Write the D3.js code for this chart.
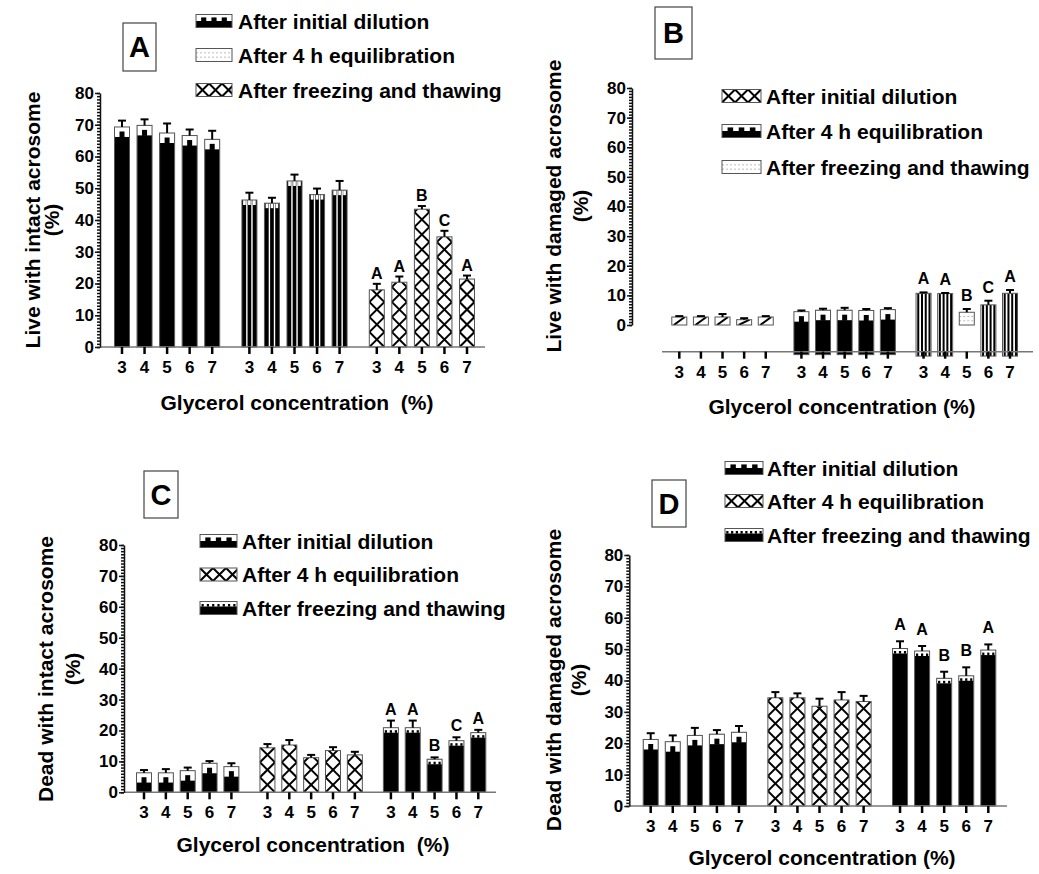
<!DOCTYPE html>
<html>
<head>
<meta charset="utf-8">
<script src="https://cdn.jsdelivr.net/npm/d3@7/dist/d3.min.js"></script>
<style>
  body { margin: 0; background: #fff; }
  svg { display: block; font-family: "Liberation Sans", Arial, sans-serif; font-weight: bold; }
</style>
</head>
<body>
<svg id="chart" width="1039" height="874"></svg>
<script>
// --- data ---
const glycerol = ['3', '4', '5', '6', '7'];
const stages = ['After initial dilution', 'After 4 h equilibration', 'After freezing and thawing'];
const yTicks = [0, 10, 20, 30, 40, 50, 60, 70, 80];

// A: live with intact acrosome (3 stages x 5 glycerol levels)
const liveIntactMean = [69.3, 69.8, 67.4, 66.6, 65.4, 46.3, 45.3, 52.3, 48.0, 49.4, 18.0, 20.4, 43.4, 34.7, 21.4];
const liveIntactErr = [2.0, 1.9, 3.0, 1.9, 2.7, 2.3, 1.7, 2.0, 1.9, 2.9, 1.9, 1.8, 1.0, 1.9, 1.1];
const liveIntactLetters = ['', '', '', '', '', '', '', '', '', '', 'A', 'A', 'B', 'C', 'A'];

// B: live with damaged acrosome
const liveDamagedMean = [2.7, 2.7, 2.7, 1.8, 2.7, 4.5, 5.0, 5.0, 4.9, 5.2, 10.7, 10.6, 4.3, 6.8, 10.7];
const liveDamagedErr = [0.3, 0.3, 1.0, 0.5, 0.3, 0.4, 0.5, 0.8, 0.5, 0.5, 0.3, 0.2, 1.1, 1.4, 1.1];
const liveDamagedLetters = ['', '', '', '', '', '', '', '', '', '', 'A', 'A', 'B', 'C', 'A'];

// C: dead with intact acrosome
const deadIntactMean = [6.3, 6.3, 7.0, 9.4, 8.3, 14.4, 15.3, 11.2, 13.5, 12.1, 20.9, 20.9, 10.7, 16.7, 19.3];
const deadIntactErr = [0.9, 1.2, 1.0, 0.7, 1.1, 1.2, 1.6, 0.9, 1.1, 1.0, 2.3, 2.3, 0.6, 1.1, 0.9];
const deadIntactLetters = ['', '', '', '', '', '', '', '', '', '', 'A', 'A', 'B', 'C', 'A'];

// D: dead with damaged acrosome
const deadDamagedMean = [21.2, 20.5, 22.5, 22.9, 23.5, 34.5, 34.5, 31.8, 33.8, 33.3, 50.2, 49.4, 40.7, 41.5, 49.7];
const deadDamagedErr = [2.0, 2.0, 2.4, 1.3, 2.0, 1.8, 1.4, 2.4, 2.5, 1.8, 2.3, 1.6, 2.1, 2.7, 1.8];
const deadDamagedLetters = ['', '', '', '', '', '', '', '', '', '', 'A', 'A', 'B', 'B', 'A'];

// --- layout of the four panels ---
const panels = [
  { tag: 'A', mean: liveIntactMean, err: liveIntactErr, letters: liveIntactLetters,
    yTitle: 'Live with intact acrosome', xTitle: 'Glycerol concentration  (%)',
    yAxisX: 100, y0: 347, y80: 93, x0: 122, x1: 467, xAxisFrom: 100, xAxisTo: 485, axisValue: 0,
    xTitleX: 297, xTitleY: 410, yTitleX: [32, 51], yTitleY: 220, box: [123, 23, 33, 48],
    legend: { x: 196, w: 36, h: 13, rows: [21, 55, 90], textX: 238 }, letterGap: 5,
    styles: ['block', 'stripes', 'cross'], legendStyles: ['block', 'dotted', 'cross'] },
  { tag: 'B', mean: liveDamagedMean, err: liveDamagedErr, letters: liveDamagedLetters,
    yTitle: 'Live with damaged acrosome', xTitle: 'Glycerol concentration (%)',
    yAxisX: 632, y0: 325, y80: 88, x0: 679.3, x1: 1010, xAxisFrom: 662, xAxisTo: 1033, axisValue: -9,
    xTitleX: 842, xTitleY: 414, yTitleX: [553, 580], yTitleY: 206, box: [655, 7, 37, 52],
    legend: { x: 722, w: 39, h: 13, rows: [96, 131, 167], textX: 766 }, letterGap: 8,
    styles: ['diag', 'block', 'vlines'], legendStyles: ['cross', 'block', 'dotted'],
    bases: [0, 0, 0, 0, 0, -10, -10, -10, -10, -10, -10.5, -10.5, 0, -10.5, -10.5],
    override: { 12: 'dotted' } },
  { tag: 'C', mean: deadIntactMean, err: deadIntactErr, letters: deadIntactLetters,
    yTitle: 'Dead with intact acrosome', xTitle: 'Glycerol concentration  (%)',
    yAxisX: 124, y0: 792.3, y80: 545, x0: 144, x1: 478.3, xAxisFrom: 124, xAxisTo: 496, axisValue: 0,
    xTitleX: 313, xTitleY: 852, yTitleX: [45, 72], yTitleY: 669, box: [144, 471, 34, 47],
    legend: { x: 200, w: 37, h: 13, rows: [541, 574.5, 608], textX: 242 }, letterGap: 6,
    styles: ['block', 'cross', 'dotsTop'], legendStyles: ['block', 'cross', 'dotsTop'] },
  { tag: 'D', mean: deadDamagedMean, err: deadDamagedErr, letters: deadDamagedLetters,
    yTitle: 'Dead with damaged acrosome', xTitle: 'Glycerol concentration (%)',
    yAxisX: 629.3, y0: 806, y80: 555, x0: 650.7, x1: 988.3, xAxisFrom: 629.3, xAxisTo: 1007, axisValue: 0,
    xTitleX: 822, xTitleY: 865, yTitleX: [553, 578], yTitleY: 680, box: [652, 480, 34, 47],
    legend: { x: 725, w: 38, h: 13, rows: [468, 501, 535], textX: 767 }, letterGap: 11,
    styles: ['block', 'cross', 'dotsTop'], legendStyles: ['block', 'cross', 'dotsTop'] }
];

const groupGap = 5.65;   // slot offset between stage groups
const barW = 15;
const svg = d3.select('#chart');
let clipN = 0;

// paints one bar (or legend swatch) with the Prism-like fill pattern
function paint(g, x, top, bottom, w, style, cell) {
  const h = bottom - top;
  if (h <= 0.5) return;
  const id = 'clip' + (clipN++);
  g.append('clipPath').attr('id', id)
    .append('rect').attr('x', x).attr('y', top).attr('width', w).attr('height', h);
  const s = g.append('g').attr('clip-path', `url(#${id})`);
  const dark = style === 'block' || style === 'stripes' || style === 'dotsTop';
  s.append('rect').attr('x', x).attr('y', top).attr('width', w).attr('height', h)
    .attr('fill', dark ? '#000' : '#fff');

  if (style === 'block') {
    const band = Math.min(10, h * 0.5);
    s.append('rect').attr('x', x).attr('y', top).attr('width', w).attr('height', band).attr('fill', '#fff');
    const n = Math.max(1, Math.round(w / 13));
    const tw = w / (2 * n + 1);
    for (let k = 0; k < n; k++) {
      s.append('rect').attr('x', x + (2 * k + 1) * tw).attr('y', top + band * 0.45)
        .attr('width', tw).attr('height', band * 0.55 + 0.5).attr('fill', '#000');
    }
  } else if (style === 'stripes') {
    [0.33, 0.67].forEach(f => {
      s.append('rect').attr('x', x + f * w - 0.7).attr('y', top).attr('width', 1.4).attr('height', h).attr('fill', '#fff');
    });
    [0.17, 0.5, 0.83].forEach(f => {
      s.append('rect').attr('x', x + f * w - w * 0.09).attr('y', top).attr('width', w * 0.18).attr('height', 5).attr('fill', '#fff');
    });
  } else if (style === 'vlines') {
    [0.08, 0.33, 0.58, 0.83].forEach(f => {
      s.append('rect').attr('x', x + f * w).attr('y', top).attr('width', 2).attr('height', h).attr('fill', '#000');
    });
  } else if (style === 'cross') {
    const c = cell || w;
    const L = h + w + 2 * c;
    for (let k = -Math.ceil(L / c); k <= Math.ceil(L / c); k++) {
      const bx = x + k * c;
      s.append('line').attr('x1', bx).attr('y1', bottom).attr('x2', bx + L).attr('y2', bottom - L)
        .attr('stroke', '#000').attr('stroke-width', 2);
      s.append('line').attr('x1', bx).attr('y1', bottom).attr('x2', bx - L).attr('y2', bottom - L)
        .attr('stroke', '#000').attr('stroke-width', 2);
    }
  } else if (style === 'diag') {
    s.append('line').attr('x1', x + 2).attr('y1', bottom).attr('x2', x + w - 2).attr('y2', top)
      .attr('stroke', '#000').attr('stroke-width', 2);
  } else if (style === 'dotted') {
    [1 / 3, 2 / 3].forEach(f => {
      s.append('line').attr('x1', x).attr('x2', x + w).attr('y1', top + f * h).attr('y2', top + f * h)
        .attr('stroke', '#bbb').attr('stroke-width', 1).attr('stroke-dasharray', '2,2');
    });
  } else if (style === 'dotsTop') {
    const band = Math.min(5, h * 0.4);
    s.append('rect').attr('x', x).attr('y', top).attr('width', w).attr('height', band).attr('fill', '#fff');
    const n = Math.max(3, Math.round(w / 5));
    for (let k = 0; k < n; k++) {
      s.append('rect').attr('x', x + (k + 0.5) * w / n - 1.1).attr('y', top + band - 2.5)
        .attr('width', 2.2).attr('height', 2.6).attr('fill', '#000');
    }
  }
  g.append('rect').attr('x', x).attr('y', top).attr('width', w).attr('height', h)
    .attr('fill', 'none').attr('stroke', '#555').attr('stroke-width', 1);
}

panels.forEach(P => {
  const g = svg.append('g');
  const y = d3.scaleLinear().domain([0, 80]).range([P.y0, P.y80]);
  const x = d3.scaleLinear().domain([0, 2 * groupGap + 4]).range([P.x0, P.x1]);
  const slot = i => Math.floor(i / 5) * groupGap + (i % 5);
  const baseY = y(P.axisValue);

  // bars
  P.mean.forEach((m, i) => {
    const cx = x(slot(i));
    const base = P.bases ? P.bases[i] : P.axisValue;
    const style = (P.override && P.override[i]) || P.styles[Math.floor(i / 5)];
    paint(g, cx - barW / 2, y(m), y(base), barW, style);
  });

  // error bars (upper only) and letters
  P.mean.forEach((m, i) => {
    const cx = x(slot(i));
    const t = y(m + P.err[i]);
    g.append('line').attr('x1', cx).attr('x2', cx).attr('y1', y(m)).attr('y2', t)
      .attr('stroke', '#000').attr('stroke-width', 2);
    g.append('line').attr('x1', cx - 4).attr('x2', cx + 4).attr('y1', t).attr('y2', t)
      .attr('stroke', '#000').attr('stroke-width', 2);
    if (P.letters[i]) {
      g.append('text').attr('x', cx).attr('y', t - P.letterGap).attr('text-anchor', 'middle')
        .attr('font-size', 16).text(P.letters[i]);
    }
  });

  // x axis line, ticks under bars and labels
  g.append('line').attr('x1', P.xAxisFrom).attr('x2', P.xAxisTo).attr('y1', baseY).attr('y2', baseY)
    .attr('stroke', '#777').attr('stroke-width', 1.5);
  P.mean.forEach((m, i) => {
    const cx = x(slot(i));
    g.append('line').attr('x1', cx).attr('x2', cx).attr('y1', baseY).attr('y2', baseY + 7)
      .attr('stroke', '#000').attr('stroke-width', 2.5);
    g.append('text').attr('x', cx).attr('y', baseY + 26).attr('text-anchor', 'middle')
      .attr('font-size', 17).text(glycerol[i % 5]);
  });

  // y axis with dense minor ticks
  g.append('g').attr('transform', `translate(${P.yAxisX},0)`)
    .call(d3.axisLeft(y).tickValues(d3.range(0, 81, 1)).tickSize(3).tickSizeOuter(0).tickFormat(''))
    .call(a => a.select('.domain').remove())
    .call(a => a.selectAll('.tick line').attr('stroke', '#111').attr('stroke-width', 1.5));
  const yAx = g.append('g').attr('transform', `translate(${P.yAxisX},0)`)
    .call(d3.axisLeft(y).tickValues(yTicks).tickSize(5).tickSizeOuter(0).tickPadding(1));
  yAx.select('.domain').attr('stroke', '#111').attr('stroke-width', 1.5);
  yAx.selectAll('.tick line').attr('stroke', '#111').attr('stroke-width', 1.5);
  yAx.selectAll('text').attr('font-size', 17).attr('font-family', null).attr('fill', '#000');

  // titles
  g.append('text').attr('x', P.xTitleX).attr('y', P.xTitleY).attr('text-anchor', 'middle')
    .attr('font-size', 21).style('white-space', 'pre').text(P.xTitle);
  [P.yTitle, '(%)'].forEach((t, k) => {
    g.append('text').attr('transform', `translate(${P.yTitleX[k]},${P.yTitleY}) rotate(-90)`)
      .attr('text-anchor', 'middle').attr('dominant-baseline', 'central')
      .attr('font-size', 21).text(t);
  });

  // panel letter box
  const [bx, by, bw, bh] = P.box;
  g.append('rect').attr('x', bx).attr('y', by).attr('width', bw).attr('height', bh)
    .attr('fill', '#fff').attr('stroke', '#444').attr('stroke-width', 1.2);
  g.append('text').attr('x', bx + bw / 2).attr('y', by + bh / 2).attr('text-anchor', 'middle')
    .attr('dominant-baseline', 'central').attr('font-size', 29).text(P.tag);

  // legend
  const Lg = P.legend;
  stages.forEach((s, k) => {
    const cy = Lg.rows[k];
    paint(g, Lg.x, cy - Lg.h / 2, cy + Lg.h / 2, Lg.w, P.legendStyles[k], Lg.h);
    g.append('text').attr('x', Lg.textX).attr('y', cy).attr('dominant-baseline', 'central')
      .attr('font-size', 21).text(s);
  });
});
</script>
</body>
</html>
